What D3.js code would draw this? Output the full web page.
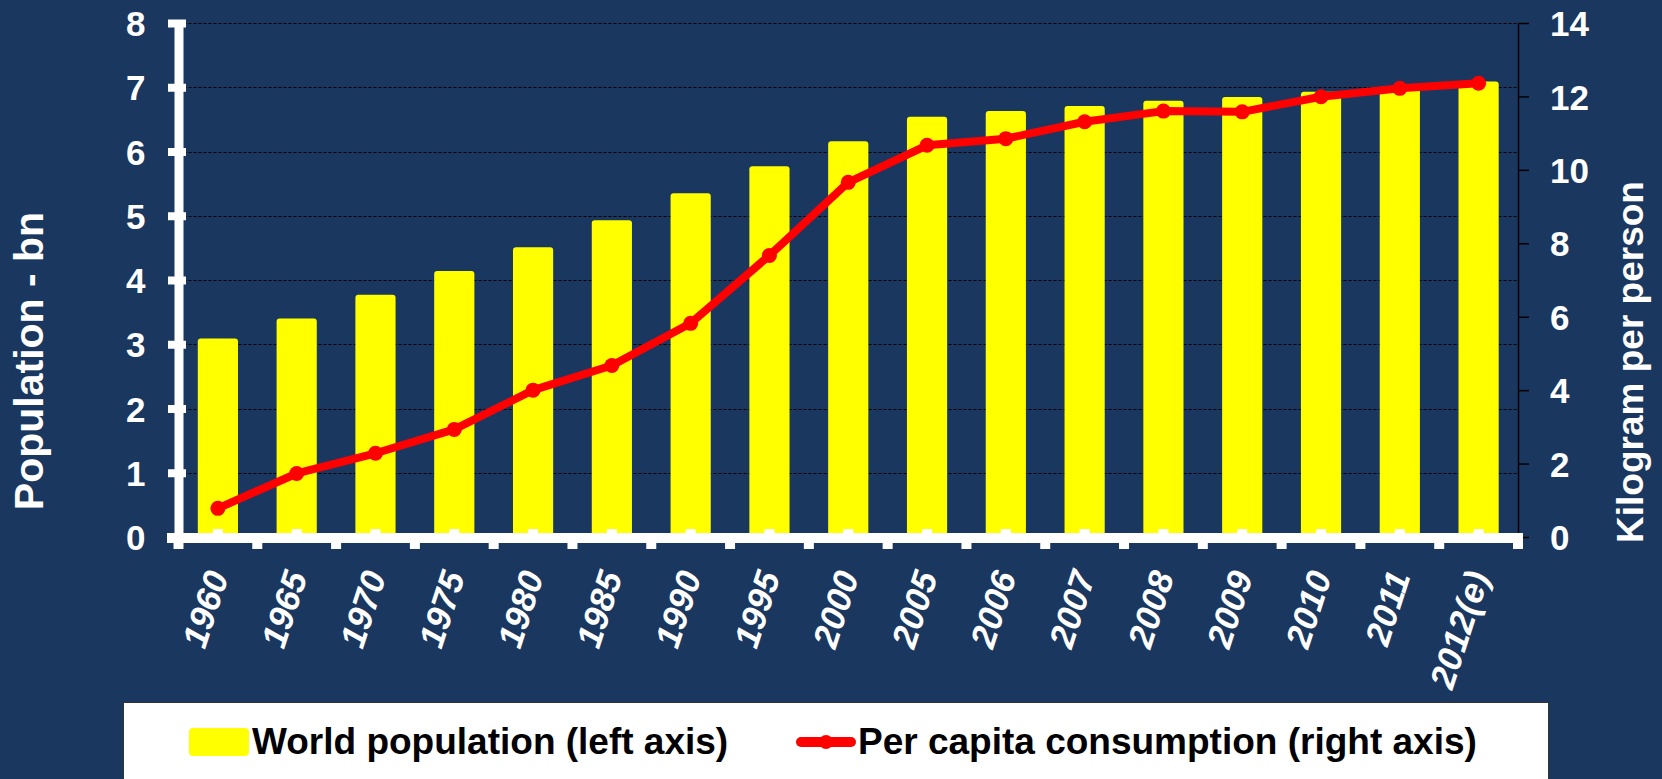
<!DOCTYPE html>
<html>
<head>
<meta charset="utf-8">
<script src="https://cdn.jsdelivr.net/npm/d3@7/dist/d3.min.js"></script>
<style>
  html, body { margin: 0; padding: 0; background: #1a3760; }
  svg { display: block; font-family: "Liberation Sans", Arial, sans-serif; }
</style>
</head>
<body>
<svg id="chart" width="1662" height="779"></svg>
<script>
const years = ["1960","1965","1970","1975","1980","1985","1990","1995","2000","2005","2006","2007","2008","2009","2010","2011","2012(e)"];
const population = [3.09, 3.40, 3.77, 4.14, 4.51, 4.93, 5.35, 5.77, 6.16, 6.54, 6.63, 6.71, 6.79, 6.85, 6.93, 7.01, 7.09];
const consumption = [0.78, 1.73, 2.28, 2.93, 4.00, 4.67, 5.82, 7.67, 9.66, 10.67, 10.85, 11.31, 11.60, 11.58, 11.99, 12.22, 12.36];
const leftTicks = [0, 1, 2, 3, 4, 5, 6, 7, 8];
const rightTicks = [0, 2, 4, 6, 8, 10, 12, 14];
const leftTitle = "Population - bn";
const rightTitle = "Kilogram per person";
const legendLabels = ["World population (left axis)", "Per capita consumption (right axis)"];

const svg = d3.select("#chart");
const W = 1662, H = 779;
const X0 = 178.5, X1 = 1518, Y0 = 537, Y1 = 23;

svg.append("rect").attr("width", W).attr("height", H).attr("fill", "#1a3760");

const x = d3.scaleBand().domain(years).range([X0, X1]).paddingInner(0.49).paddingOuter(0.245);
const yL = d3.scaleLinear().domain([0, 8]).range([Y0, Y1]);
const yR = d3.scaleLinear().domain([0, 14]).range([Y0, Y1]);

// gridlines
svg.append("g").selectAll("line").data(leftTicks.filter(d => d > 0)).join("line")
  .attr("x1", X0).attr("x2", X1)
  .attr("y1", d => Math.round(yL(d)) + 0.5).attr("y2", d => Math.round(yL(d)) + 0.5)
  .attr("stroke", "#000").attr("stroke-width", 1).attr("stroke-dasharray", "3,2");

// bars
svg.append("g").selectAll("rect").data(years).join("rect")
  .attr("x", d => x(d)).attr("width", x.bandwidth())
  .attr("y", (d, i) => yL(population[i]))
  .attr("height", (d, i) => Y0 - yL(population[i]) + 3)
  .attr("rx", 3)
  .attr("fill", "#ffff00");

// right axis (thin black)
const gR = svg.append("g").attr("transform", `translate(${X1},0)`)
  .call(d3.axisRight(yR).tickValues(rightTicks).tickSizeInner(11).tickSizeOuter(0).tickPadding(21));
gR.select(".domain").attr("stroke", "#000").attr("stroke-width", 1.5);
gR.selectAll(".tick line").attr("stroke", "#000").attr("stroke-width", 1.5);
gR.selectAll(".tick text").attr("fill", "#fff").attr("font-size", 35).attr("font-weight", "bold")
  .attr("font-family", "Liberation Sans, Arial, sans-serif").attr("dy", "0.36em");

// bottom axis (thick white)
const boundaries = d3.range(years.length + 1).map(i => X0 + i * x.step() - (i === 0 ? 0 : 0));
svg.append("rect").attr("x", 167).attr("y", 533).attr("width", 1523 - 167).attr("height", 10).attr("fill", "#fff");
svg.append("g").selectAll("rect").data(boundaries).join("rect")
  .attr("x", d => d - 5).attr("y", 540).attr("width", 10).attr("height", 9).attr("fill", "#fff");
svg.append("g").selectAll("rect").data(years).join("rect")
  .attr("x", d => x(d) + x.bandwidth() / 2 - 5).attr("y", 529).attr("width", 10).attr("height", 6).attr("fill", "#fff");

// x labels
svg.append("g").selectAll("text").data(years).join("text")
  .attr("transform", d => `translate(${x(d) + x.bandwidth() / 2 + 11},${576}) rotate(-72)`)
  .attr("text-anchor", "end")
  .attr("fill", "#fff").attr("font-size", 35).attr("font-weight", "bold").attr("font-style", "italic")
  .text(d => d);

// left axis (thick white)
const gL = svg.append("g").attr("transform", `translate(${X0},0)`)
  .call(d3.axisLeft(yL).tickValues(leftTicks).tickSizeInner(0).tickSizeOuter(0).tickPadding(33));
gL.select(".domain").attr("stroke", "#fff").attr("stroke-width", 9);
gL.selectAll(".tick line").attr("x1", -10.5).attr("x2", 7.5).attr("stroke", "#fff").attr("stroke-width", 8);
gL.selectAll(".tick text").attr("fill", "#fff").attr("font-size", 35).attr("font-weight", "bold")
  .attr("font-family", "Liberation Sans, Arial, sans-serif").attr("dy", "0.36em");

// line series
const line = d3.line().x((d, i) => x(years[i]) + x.bandwidth() / 2).y(d => yR(d));
svg.append("path").datum(consumption).attr("d", line)
  .attr("fill", "none").attr("stroke", "#ff0000").attr("stroke-width", 8).attr("stroke-linejoin", "round");
svg.append("g").selectAll("circle").data(consumption).join("circle")
  .attr("cx", (d, i) => x(years[i]) + x.bandwidth() / 2).attr("cy", d => yR(d)).attr("r", 7.5)
  .attr("fill", "#ff0000");

// axis titles
svg.append("text").attr("transform", "translate(43,361) rotate(-90)")
  .attr("text-anchor", "middle").attr("fill", "#fff").attr("font-size", 41).attr("font-weight", "bold")
  .text(leftTitle);
svg.append("text").attr("transform", "translate(1643,362) rotate(-90)")
  .attr("text-anchor", "middle").attr("fill", "#fff").attr("font-size", 37).attr("font-weight", "bold")
  .text(rightTitle);

// legend
const lg = svg.append("g");
lg.append("rect").attr("x", 123.5).attr("y", 702.5).attr("width", 1425).attr("height", 90)
  .attr("fill", "#fff").attr("stroke", "#333").attr("stroke-width", 1);
lg.append("rect").attr("x", 189).attr("y", 728).attr("width", 60).attr("height", 28).attr("rx", 4).attr("fill", "#ffff00");
lg.append("text").attr("x", 252).attr("y", 754).attr("font-size", 37).attr("font-weight", "bold").attr("fill", "#000")
  .text(legendLabels[0]);
lg.append("line").attr("x1", 801).attr("x2", 851).attr("y1", 742).attr("y2", 742)
  .attr("stroke", "#ff0000").attr("stroke-width", 10).attr("stroke-linecap", "round");
lg.append("circle").attr("cx", 826).attr("cy", 742).attr("r", 7).attr("fill", "#ff0000");
lg.append("text").attr("x", 858).attr("y", 754).attr("font-size", 37).attr("font-weight", "bold").attr("fill", "#000")
  .text(legendLabels[1]);
</script>
</body>
</html>
